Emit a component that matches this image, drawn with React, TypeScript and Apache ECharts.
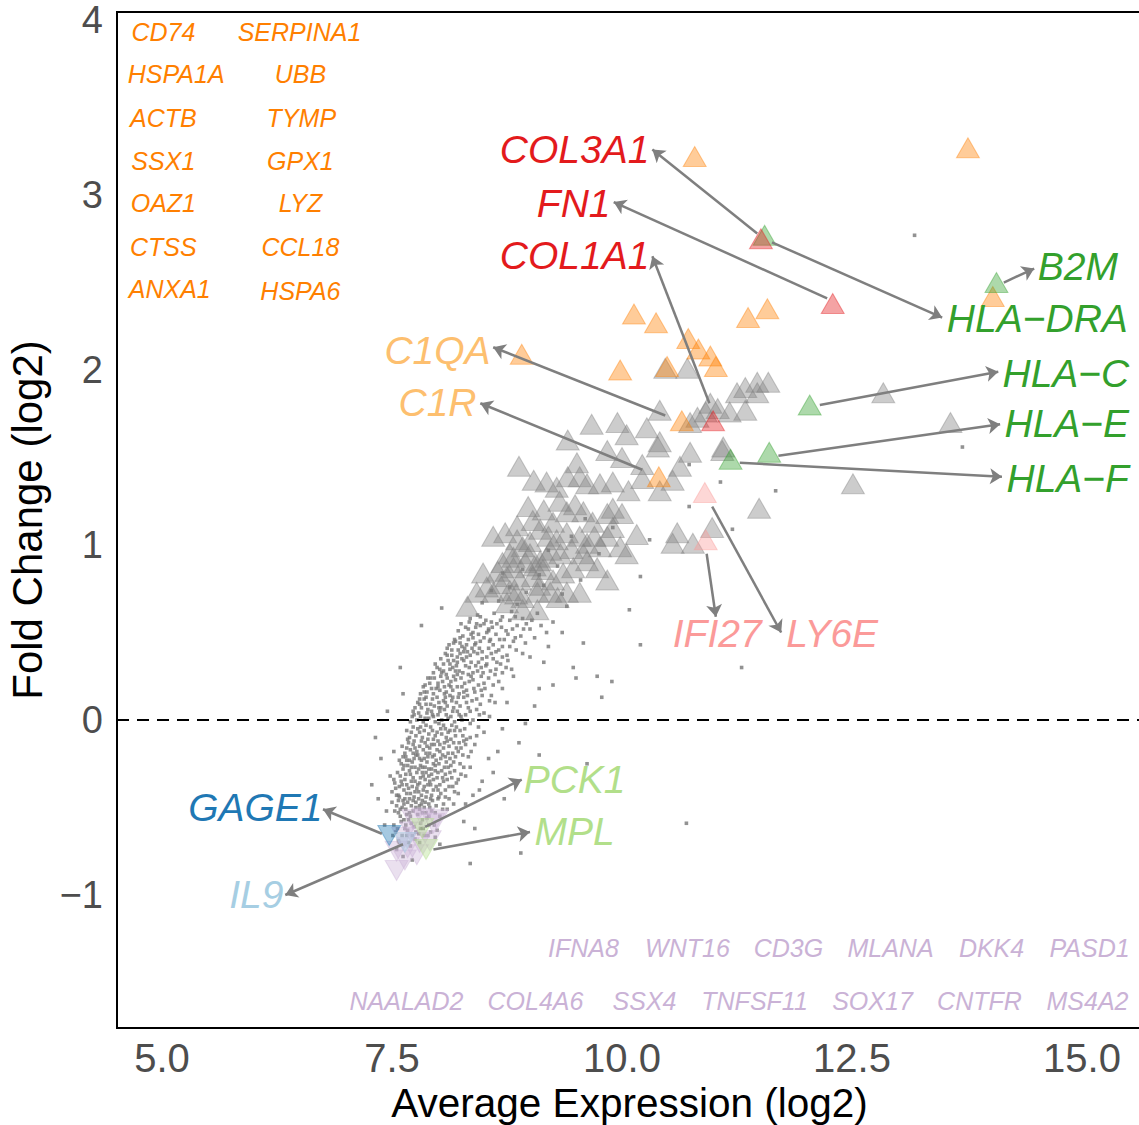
import React, { useEffect, useRef } from "react";
import * as echarts from "echarts";

// ---------- axes ----------
const xTicks = [5, 7.5, 10, 12.5, 15];
const yTicks = [-1, 0, 1, 2, 3, 4];
const xRange = [4.511, 15.652];
const yRange = [-1.76, 4.046];

// ---------- background genes (small dots) ----------
const bgDots: number[][] = [
  [7.62,-0.78],[7.70,-0.72],[7.58,-0.70],[7.75,-0.68],[7.66,-0.66],[7.80,-0.70],[7.55,-0.74],[7.72,-0.80],[7.85,-0.66],[7.64,-0.62],[8.02,-0.71],[8.35,-0.82],[7.92,-0.64],
  [7.52,-0.60],[7.60,-0.58],[7.68,-0.57],[7.74,-0.61],[7.81,-0.59],[7.88,-0.56],[7.96,-0.60],[7.57,-0.53],[7.65,-0.51],[7.71,-0.49],[7.78,-0.54],[7.85,-0.50],[7.93,-0.52],[8.02,-0.55],[8.10,-0.51],[7.50,-0.47],[7.62,-0.46],[7.69,-0.45],[7.76,-0.47],[7.83,-0.46],[7.90,-0.48],[8.00,-0.45],[8.17,-0.48],[8.28,-0.58],[8.90,-0.76],[7.44,-0.52],[7.99,-0.63],
  [7.50,-0.41],[7.57,-0.43],[7.63,-0.40],[7.70,-0.42],[7.77,-0.39],[7.82,-0.43],[7.88,-0.41],[7.95,-0.40],[8.03,-0.42],[8.12,-0.38],[7.53,-0.36],[7.60,-0.35],[7.66,-0.37],[7.73,-0.33],[7.80,-0.36],[7.86,-0.34],[7.92,-0.37],[7.99,-0.33],[8.06,-0.35],[8.20,-0.36],[8.30,-0.32],[8.45,-0.40],[7.56,-0.30],[7.62,-0.28],[7.69,-0.29],[7.75,-0.27],[7.83,-0.30],[7.90,-0.28],[7.97,-0.26],[8.04,-0.29],[8.11,-0.27],[8.24,-0.25],[7.28,-0.37],[8.60,-0.30],[9.62,-0.25],[7.48,-0.32],[8.38,-0.43],
  [7.58,-0.23],[7.65,-0.21],[7.72,-0.24],[7.78,-0.20],[7.85,-0.22],[7.91,-0.19],[7.98,-0.23],[8.05,-0.20],[8.13,-0.22],[8.22,-0.18],[8.33,-0.21],[7.61,-0.15],[7.68,-0.13],[7.75,-0.16],[7.82,-0.12],[7.88,-0.15],[7.95,-0.11],[8.02,-0.14],[8.09,-0.10],[8.17,-0.13],[8.27,-0.09],[8.40,-0.14],[7.66,-0.06],[7.73,-0.04],[7.80,-0.07],[7.87,-0.03],[7.94,-0.06],[8.01,-0.02],[8.08,-0.05],[8.15,-0.03],[8.24,-0.06],[8.35,-0.02],[8.50,-0.07],[7.32,-0.10],[8.88,-0.13],[8.65,-0.18],[7.52,-0.18],
  [7.72,0.02],[7.79,0.04],[7.86,0.01],[7.93,0.05],[8.00,0.03],[8.07,0.06],[8.14,0.02],[8.21,0.05],[8.30,0.03],[8.42,0.06],[8.56,0.02],[7.78,0.10],[7.85,0.12],[7.92,0.09],[7.99,0.13],[8.06,0.11],[8.13,0.14],[8.20,0.10],[8.28,0.13],[8.37,0.11],[8.48,0.14],[8.62,0.10],[7.84,0.19],[7.91,0.21],[7.98,0.18],[8.05,0.22],[8.12,0.20],[8.19,0.23],[8.26,0.19],[8.34,0.22],[8.44,0.20],[8.55,0.24],[8.70,0.18],[9.78,0.13],[9.50,0.24],[9.89,0.22],[9.05,0.08],[7.62,0.15],
  [7.95,0.27],[8.02,0.29],[8.09,0.26],[8.16,0.30],[8.23,0.28],[8.30,0.31],[8.38,0.27],[8.47,0.30],[8.57,0.28],[8.68,0.32],[8.80,0.29],[8.03,0.35],[8.10,0.37],[8.17,0.34],[8.24,0.38],[8.31,0.36],[8.39,0.39],[8.48,0.35],[8.58,0.38],[8.70,0.36],[8.85,0.40],[8.12,0.43],[8.19,0.45],[8.26,0.42],[8.33,0.46],[8.41,0.44],[8.50,0.47],[8.60,0.43],[8.72,0.46],[8.95,0.44],[7.59,0.30],[9.73,0.25],[9.47,0.30],[10.20,0.43],[11.30,0.30],[9.15,0.33],
  [8.22,0.51],[8.30,0.53],[8.38,0.50],[8.46,0.54],[8.55,0.52],[8.64,0.55],[8.74,0.51],[8.86,0.54],[9.00,0.52],[8.35,0.58],[8.43,0.60],[8.52,0.57],[8.61,0.61],[8.70,0.59],[8.80,0.62],[8.92,0.58],[9.08,0.61],[9.25,0.56],[7.82,0.54],[8.04,0.64],[10.08,0.63],[9.40,0.65],[8.48,0.67],[8.66,0.68],[8.86,0.66],
  [8.58,0.74],[8.78,0.76],[8.96,0.73],[9.15,0.77],[9.35,0.72],[8.70,0.84],[8.92,0.86],[9.10,0.83],[9.30,0.88],[9.55,0.80],[10.20,0.82],[9.75,0.95],[9.20,0.97],[9.45,1.05],[9.90,1.10],[10.30,1.03],[10.73,1.22],[11.07,1.36],[10.73,1.46],[11.20,1.09],[11.67,1.31],[13.18,2.77],[13.70,1.56],[10.70,-0.59],[9.60,1.15],
  [7.54,-0.64],[7.61,-0.66],[7.67,-0.63],[7.79,-0.65],[7.71,-0.59],[7.84,-0.62],[7.59,-0.55],[7.66,-0.54],[7.73,-0.52],[7.80,-0.51],[7.87,-0.53],[7.55,-0.49],[7.63,-0.48],[7.74,-0.44],[7.80,-0.49],[7.87,-0.44],[7.94,-0.46],[8.06,-0.48],[7.58,-0.44],[7.66,-0.42],[7.72,-0.38],[7.79,-0.41],[7.85,-0.38],[7.91,-0.35],[7.98,-0.38],[8.08,-0.40],[8.15,-0.33],[7.54,-0.39],[7.59,-0.32],[7.65,-0.31],[7.71,-0.35],[7.77,-0.30],[7.84,-0.32],[7.93,-0.31],[8.00,-0.30],[8.08,-0.31],[8.18,-0.29],
  [7.60,-0.25],[7.67,-0.26],[7.74,-0.22],[7.81,-0.26],[7.88,-0.24],[7.94,-0.21],[8.01,-0.25],[8.09,-0.24],[8.16,-0.19],[7.64,-0.19],[7.70,-0.17],[7.77,-0.18],[7.84,-0.17],[7.91,-0.16],[7.99,-0.17],[8.06,-0.16],[8.12,-0.15],[8.20,-0.16],[8.30,-0.14],[7.69,-0.10],[7.76,-0.09],[7.83,-0.10],[7.90,-0.08],[7.97,-0.09],[8.04,-0.08],[8.11,-0.07],[8.19,-0.09],[8.31,-0.11],
  [7.70,-0.01],[7.77,0.00],[7.84,-0.01],[7.90,0.01],[7.97,-0.01],[8.04,0.00],[8.11,0.01],[8.18,-0.01],[8.26,0.00],[8.38,0.00],[7.75,0.07],[7.82,0.07],[7.89,0.06],[7.96,0.08],[8.03,0.07],[8.10,0.08],[8.17,0.07],[8.24,0.08],[8.33,0.07],[8.46,0.09],[7.81,0.15],[7.88,0.16],[7.95,0.15],[8.02,0.17],[8.09,0.16],[8.16,0.17],[8.23,0.15],[8.31,0.17],[8.40,0.16],[8.51,0.18],
  [7.89,0.24],[7.96,0.24],[8.03,0.25],[8.10,0.24],[8.17,0.25],[8.25,0.24],[8.36,0.25],[8.47,0.25],[8.62,0.26],[8.06,0.32],[8.13,0.32],[8.21,0.33],[8.28,0.34],[8.36,0.33],[8.44,0.33],[8.53,0.32],[8.64,0.33],[8.76,0.34],[8.15,0.40],[8.22,0.40],[8.29,0.41],[8.37,0.41],[8.45,0.41],[8.55,0.41],[8.66,0.40],[8.78,0.42],[8.27,0.48],[8.36,0.49],[8.44,0.49],[8.53,0.50],[8.63,0.49],[8.76,0.49],[8.90,0.48],[8.42,0.55],[8.58,0.56],[8.78,0.57],[8.96,0.55],[9.12,0.54],
  [7.57,-0.69],[7.68,-0.70],[7.76,-0.64],[7.83,-0.57],[7.90,-0.60],[7.63,-0.57],[7.51,-0.66],[7.97,-0.67],
  [7.53,-0.52],[7.61,-0.50],[7.69,-0.53],[7.76,-0.50],[7.83,-0.53],[7.91,-0.50],[7.97,-0.53],[8.05,-0.51],[7.57,-0.46],[7.67,-0.47],[7.73,-0.46],[7.79,-0.45],[7.86,-0.47],[7.93,-0.43],[8.01,-0.44],[8.12,-0.45],[8.22,-0.42],
  [7.52,-0.34],[7.58,-0.38],[7.64,-0.34],[7.68,-0.39],[7.75,-0.35],[7.81,-0.33],[7.87,-0.30],[7.89,-0.37],[7.95,-0.34],[8.02,-0.37],[8.10,-0.34],[8.16,-0.38],[8.25,-0.31],[8.35,-0.27],[7.63,-0.26],[7.71,-0.27],[7.79,-0.28],[7.86,-0.27],[7.93,-0.28],[8.07,-0.27],[8.14,-0.26],
  [7.62,-0.21],[7.69,-0.23],[7.76,-0.20],[7.82,-0.23],[7.89,-0.21],[7.96,-0.20],[8.03,-0.22],[8.11,-0.19],[8.19,-0.21],[8.27,-0.20],[7.66,-0.16],[7.73,-0.14],[7.80,-0.15],[7.86,-0.13],[7.93,-0.14],[8.00,-0.12],[8.07,-0.13],[8.14,-0.11],[8.23,-0.13],[8.35,-0.10],[7.71,-0.07],[7.78,-0.05],[7.85,-0.06],[7.92,-0.04],[7.99,-0.07],[8.06,-0.03],[8.13,-0.06],[8.20,-0.04],[8.29,-0.05],[8.44,-0.04],
  [7.74,0.03],[7.81,0.02],[7.88,0.04],[7.95,0.02],[8.02,0.05],[8.09,0.03],[8.16,0.05],[8.25,0.02],[8.35,0.05],[8.50,0.04],[7.80,0.12],[7.87,0.09],[7.94,0.12],[8.01,0.10],[8.08,0.13],[8.15,0.11],[8.22,0.13],[8.31,0.10],[8.42,0.12],[8.56,0.11],[7.86,0.20],[7.93,0.18],[8.00,0.21],[8.07,0.19],[8.14,0.22],[8.21,0.19],[8.29,0.21],[8.39,0.18],[8.50,0.21],[8.66,0.22],
  [7.99,0.30],[8.06,0.28],[8.13,0.29],[8.20,0.31],[8.27,0.27],[8.34,0.30],[8.43,0.28],[8.52,0.31],[8.63,0.29],[8.74,0.30],[8.08,0.38],[8.15,0.37],[8.21,0.36],[8.28,0.39],[8.35,0.37],[8.43,0.38],[8.53,0.36],[8.63,0.39],[8.75,0.37],[8.92,0.38],[8.18,0.46],[8.24,0.44],[8.31,0.43],[8.38,0.47],[8.46,0.45],[8.56,0.45],[8.67,0.46],[8.82,0.45],[9.05,0.47],[8.33,0.52],[8.41,0.53],[8.50,0.55],[8.59,0.53],[8.69,0.53],[8.81,0.52],[8.93,0.52],
  [8.75,0.10],[8.82,0.25],[9.00,0.36],[9.20,0.42],[9.10,0.18],[8.70,-0.05],[8.55,-0.22],[8.48,-0.35],[9.35,0.50],[8.95,-0.02],[9.58,0.44],[8.30,-0.48],[8.72,-0.45],[9.25,0.20],[8.40,-0.62],[9.10,-0.20],[7.38,-0.22],[7.42,-0.60],[7.45,0.05],[7.35,-0.45],
  [7.56,-0.62],[7.65,-0.60],[7.72,-0.66],[7.81,-0.62],[7.89,-0.66],[7.59,-0.51],[7.70,-0.55],[7.82,-0.48],[7.90,-0.55],[7.98,-0.49],[8.08,-0.44],[7.55,-0.43],[7.64,-0.45],[7.75,-0.41],[7.84,-0.40],[7.92,-0.45],[8.00,-0.40],[8.18,-0.41],[7.61,-0.37],[7.70,-0.31],[7.78,-0.37],[7.83,-0.27],[7.90,-0.32],[7.97,-0.29],[8.05,-0.33],[8.13,-0.30],[8.22,-0.34],[8.28,-0.27],
  [7.66,-0.23],[7.73,-0.19],[7.80,-0.22],[7.87,-0.19],[7.95,-0.25],[8.02,-0.18],[8.08,-0.21],[8.17,-0.24],[8.25,-0.16],[8.36,-0.18],[7.67,-0.11],[7.74,-0.12],[7.81,-0.04],[7.89,-0.11],[7.96,-0.14],[8.03,-0.05],[8.10,-0.12],[8.18,-0.06],[8.28,-0.12],[8.42,-0.09],
  [7.73,0.05],[7.80,0.09],[7.87,0.13],[7.94,0.03],[8.01,0.07],[8.08,0.10],[8.16,0.13],[8.23,0.03],[8.32,0.14],[8.45,0.03],[8.58,0.14],[7.85,0.16],[7.92,0.24],[8.00,0.19],[8.07,0.15],[8.14,0.19],[8.21,0.26],[8.28,0.16],[8.38,0.23],[8.47,0.17],[8.60,0.20],
  [7.97,0.32],[8.04,0.27],[8.11,0.34],[8.19,0.28],[8.26,0.35],[8.33,0.26],[8.41,0.31],[8.49,0.27],[8.60,0.35],[8.70,0.27],[8.10,0.41],[8.17,0.44],[8.24,0.47],[8.32,0.39],[8.40,0.43],[8.48,0.39],[8.57,0.46],[8.70,0.42],[8.84,0.47],[8.25,0.55],[8.34,0.56],[8.46,0.59],[8.55,0.51],[8.68,0.57],[8.84,0.59],[9.02,0.57],[9.18,0.50]
];

// ---------- significant, unlabelled genes (grey triangles) ----------
const greyUp: number[][] = [
  [8.88,1.45],[9.04,1.37],[9.18,1.36],[9.29,1.33],[9.41,1.39],[9.51,1.47],[9.41,1.60],[9.67,1.69],[9.95,1.70],[10.05,1.63],[9.84,1.54],[10.00,1.50],[10.22,1.46],[10.27,1.67],[10.39,1.56],[10.41,1.77],[10.82,1.73],[10.91,1.76],[11.04,1.78],[11.17,1.76],[11.25,1.87],[10.74,1.53],[10.63,1.45],[10.55,1.37],[10.41,1.31],[10.22,1.38],[10.07,1.31],[9.90,1.36],[9.76,1.35],[9.62,1.35],[9.54,1.39],[11.09,1.54],
  [8.60,1.05],[8.73,1.07],[8.86,1.11],[9.03,1.14],[9.11,1.09],[9.25,1.13],[9.40,1.19],[9.49,1.23],[9.58,1.19],[9.68,1.13],[9.84,1.18],[9.90,1.21],[10.00,1.18],[9.90,1.10],[10.16,1.06],[10.05,0.95],[9.98,0.99],[9.84,1.05],[9.76,0.99],[9.62,1.01],[9.54,1.05],[9.40,1.07],[9.29,1.03],[9.22,0.97],[9.11,0.91],[9.00,0.95],[8.92,0.99],[8.86,1.03],[8.78,0.95],[8.82,0.87],[8.75,0.82],[8.89,0.80],[9.03,0.82],[9.14,0.86],[9.25,0.80],[9.36,0.84],[9.47,0.87],[9.62,0.91],[9.73,0.87],[9.84,0.80],
  [9.54,0.73],[9.40,0.73],[9.22,0.73],[9.08,0.73],[8.92,0.70],[8.78,0.74],[8.67,0.78],[8.53,0.76],[8.49,0.84],[8.60,0.73],[8.42,0.73],[8.32,0.65],[8.92,0.63],[9.08,0.63],[8.75,0.67],
  [10.60,1.07],[10.55,1.01],[10.77,1.01],[10.98,1.10],[11.34,1.90],[11.47,1.93],[11.59,1.93],[11.47,1.87],[11.34,1.77],[10.96,1.81],[10.74,1.70],[10.41,1.59],[11.10,1.56],[10.47,2.01],[10.71,2.01],[12.84,1.87],[13.57,1.70],[12.51,1.35],[11.49,1.21],
  [8.95,0.90],[9.05,0.88],[9.18,0.93],[8.70,0.90],[8.82,0.93],[9.33,0.95],[9.45,0.98],[9.20,1.05],[9.00,1.02],[8.65,0.85],[9.10,0.77],[9.30,0.70],[8.85,0.72],[9.58,0.95],[9.70,1.05],[9.15,1.20],[9.32,1.25],[8.98,1.22]
];

// ---------- highlighted genes ----------
const orangeUp: number[][] = [
  [10.79,3.22],[13.76,3.27],[10.13,2.32],[10.37,2.27],[11.37,2.30],[11.58,2.35],[8.91,2.09],[9.98,2.00],
  [10.49,2.02],[10.72,2.18],[10.83,2.12],[10.96,2.08],[11.02,2.02],[14.03,2.42],[10.65,1.71],[10.40,1.39]
];
const greenUp: number[][] = [[11.55,2.77],[14.07,2.50],[12.04,1.80],[11.60,1.53],[11.18,1.49]];
const redUp: number[][] = [[11.51,2.75],[12.29,2.38],[10.99,1.71]];
const pinkUp: number[][] = [[10.90,1.30],[10.91,1.03]];

const purpleDown: number[][] = [
  [7.62,-0.67],[7.84,-0.56],[7.95,-0.59],[7.73,-0.57],[7.67,-0.73],[7.55,-0.75],[7.77,-0.77],
  [7.55,-0.86],[7.64,-0.80],[7.80,-0.70],[7.91,-0.69],[7.99,-0.57],[7.71,-0.64]
];
const blueDown: number[][] = [[7.47,-0.66]];
const lightBlueDown: number[][] = [[7.64,-0.70]];
const lightGreenDown: number[][] = [[7.83,-0.62],[7.87,-0.74]];

// ---------- callout labels ----------
const calloutNames = ["COL3A1","FN1","COL1A1","HLA\u2212DRA","B2M","HLA\u2212C","HLA\u2212E","HLA\u2212F","C1QA","C1R","IFI27","LY6E","GAGE1","IL9","PCK1","MPL"];
const calloutPos: number[][] = [
  [9.49,3.26],[9.48,2.95],[9.49,2.65],[14.52,2.29],[14.96,2.59],[14.83,1.98],[14.84,1.69],[14.85,1.38],
  [8.00,2.11],[8.00,1.81],[11.04,0.49],[12.29,0.49],[6.02,-0.50],[6.03,-1.00],[9.49,-0.34],[9.49,-0.64]
];
const arrowFrom: number[][] = [
  [11.47,2.78],[12.23,2.41],[10.95,1.81],[11.63,2.73],[14.15,2.50],[12.15,1.80],[11.70,1.51],[11.28,1.47],
  [10.47,1.74],[10.22,1.43],[10.92,0.95],[10.98,1.22],[7.39,-0.65],[7.62,-0.71],[7.86,-0.61],[7.95,-0.74]
];
const arrowTo: number[][] = [
  [10.33,3.26],[9.91,2.96],[10.33,2.65],[13.48,2.30],[14.48,2.58],[14.09,1.99],[14.11,1.69],[14.13,1.39],
  [8.60,2.13],[8.46,1.81],[11.02,0.59],[11.73,0.50],[6.75,-0.51],[6.34,-1.00],[8.91,-0.34],[9.00,-0.64]
];
const calloutColors = ["#E31A1C","#E31A1C","#E31A1C","#33A02C","#33A02C","#33A02C","#33A02C","#33A02C","#FDBF6F","#FDBF6F","#FB9A99","#FB9A99","#1F78B4","#A6CEE3","#B2DF8A","#B2DF8A"];

// top-left list (up-regulated, shown as text)
const upListNames = ["CD74","HSPA1A","ACTB","SSX1","OAZ1","CTSS","ANXA1","SERPINA1","UBB","TYMP","GPX1","LYZ","CCL18","HSPA6"];
const upListPos: number[][] = [
  [5.02,3.93],[5.16,3.69],[5.02,3.44],[5.02,3.19],[5.02,2.95],[5.02,2.70],[5.09,2.46],
  [6.50,3.93],[6.51,3.69],[6.52,3.44],[6.51,3.19],[6.51,2.95],[6.51,2.70],[6.51,2.45]
];
// bottom list (down-regulated)
const downListNames = ["IFNA8","WNT16","CD3G","MLANA","DKK4","PASD1","NAALAD2","COL4A6","SSX4","TNFSF11","SOX17","CNTFR","MS4A2"];
const downListPos: number[][] = [
  [9.587,-1.303],[10.717,-1.303],[11.815,-1.303],[12.924,-1.303],[14.022,-1.303],[15.087,-1.303],
  [7.663,-1.606],[9.065,-1.606],[10.25,-1.606],[11.446,-1.606],[12.728,-1.606],[13.891,-1.606],[15.065,-1.606]
];

const FONT = "Liberation Sans, Arial, Helvetica, sans-serif";

function hexA(hex: string, a: number) {
  const r = parseInt(hex.slice(1, 3), 16), g = parseInt(hex.slice(3, 5), 16), b = parseInt(hex.slice(5, 7), 16);
  return `rgba(${r},${g},${b},${a})`;
}

function triSeries(name: string, data: number[][], color: string, down: boolean, z: number) {
  return {
    name, type: "scatter", data, z,
    symbol: "triangle", symbolSize: [23, 20], symbolRotate: down ? 180 : 0,
    itemStyle: { color: hexA(color, 0.5), borderColor: hexA(color, 0.5), borderWidth: 1 },
    silent: true,
  };
}

function labelSeries(name: string, names: string[], pos: number[][], colors: string[] | string, size: number, z: number) {
  return {
    name, type: "scatter", z, silent: true, clip: false,
    symbolSize: 1,
    itemStyle: { color: "rgba(0,0,0,0)" },
    data: pos.map((p, i) => ({
      value: p, name: names[i],
      label: { color: Array.isArray(colors) ? colors[i] : colors },
    })),
    label: {
      show: true, position: [0, 0], align: "center", verticalAlign: "middle",
      formatter: (p: any) => p.name,
      fontSize: size, fontStyle: "italic", fontFamily: FONT,
      textBorderWidth: 0, textBorderColor: "transparent", textShadowBlur: 0, opacity: 1,
    },
  };
}

export default function App() {
  const ref = useRef<HTMLDivElement>(null);
  useEffect(() => {
    if (!ref.current) return;
    const chart = echarts.init(ref.current, null, { renderer: "svg" });
    chart.setOption({
      animation: false,
      backgroundColor: "#fff",
      grid: {
        left: 117, top: 12, width: 1025, height: 1016, show: true,
        borderColor: "#000", borderWidth: 2, containLabel: false, outerBoundsMode: "none",
      },
      xAxis: {
        type: "value", min: xRange[0], max: xRange[1],
        name: "Average Expression (log2)", nameLocation: "middle", nameGap: 50,
        nameTextStyle: { fontSize: 40.5, color: "#000", fontFamily: FONT, lineHeight: 40 },
        axisLine: { show: true, onZero: false, lineStyle: { color: "#000", width: 2 } },
        axisTick: { show: false },
        splitLine: { show: false },
        axisLabel: {
          customValues: xTicks, fontSize: 40, color: "#4D4D4D", fontFamily: FONT, margin: 10,
          formatter: (v: number) => v.toFixed(1),
        },
      },
      yAxis: {
        type: "value", min: yRange[0], max: yRange[1],
        name: "Fold Change (log2)", nameLocation: "middle", nameGap: 67, nameRotate: 90,
        nameTextStyle: { fontSize: 42, color: "#000", fontFamily: FONT },
        axisLine: { show: true, onZero: false, lineStyle: { color: "#000", width: 2 } },
        axisTick: { show: false },
        splitLine: { show: false },
        axisLabel: {
          customValues: yTicks, fontSize: 38, color: "#4D4D4D", fontFamily: FONT, margin: 14,
          formatter: (v: number) => String(v).replace("-", "\u2212"),
        },
      },
      series: [
        {
          name: "dots", type: "scatter", data: bgDots, z: 2, silent: true,
          symbol: "rect", symbolSize: 3.6, itemStyle: { color: "#777777" },
          markLine: {
            silent: true, symbol: ["none", "none"], label: { show: false },
            lineStyle: { color: "#000", type: [12, 8], width: 2 },
            data: [{ yAxis: 0 }],
          },
        },
        triSeries("grey", greyUp, "#7F7F7F", false, 3),
        triSeries("orange", orangeUp, "#FF7F00", false, 4),
        triSeries("green", greenUp, "#33A02C", false, 4),
        triSeries("red", redUp, "#E31A1C", false, 4),
        triSeries("pink", pinkUp, "#FB9A99", false, 4),
        triSeries("purple", purpleDown, "#CAB2D6", true, 4),
        triSeries("blue", blueDown, "#1F78B4", true, 4),
        triSeries("lightblue", lightBlueDown, "#A6CEE3", true, 4),
        triSeries("lightgreen", lightGreenDown, "#B2DF8A", true, 4),
        {
          name: "arrows", type: "lines", coordinateSystem: "cartesian2d", z: 6, silent: true,
          symbol: ["none", "arrow"], symbolSize: 12,
          lineStyle: { color: "#7F7F7F", width: 2.5, opacity: 1, curveness: 0 },
          data: arrowFrom.map((f, i) => ({ coords: [f, arrowTo[i]] })),
        },
        labelSeries("callouts", calloutNames, calloutPos, calloutColors, 39, 7),
        labelSeries("upList", upListNames, upListPos, "#FF7F00", 25, 7),
        labelSeries("downList", downListNames, downListPos, "#CAB2D6", 25, 7),
      ],
    });
    return () => chart.dispose();
  }, []);
  return <div ref={ref} style={{ width: 1139, height: 1125, position: "absolute", left: 0, top: 0 }} />;
}
